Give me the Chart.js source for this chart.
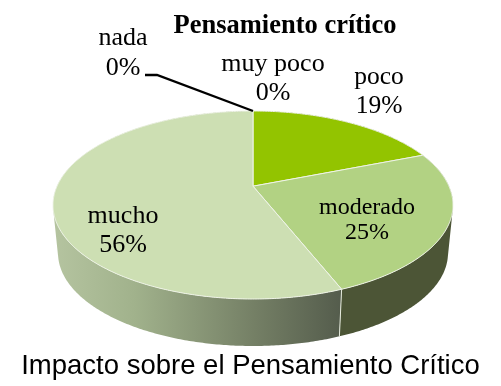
<!DOCTYPE html>
<html><head><meta charset="utf-8">
<style>html,body{margin:0;padding:0;background:#fff}#w{width:501px;height:386px;position:relative}</style>
<script src="https://cdn.jsdelivr.net/npm/chart.js@4"></script></head>
<body><div id="w"><canvas id="c" width="501" height="386"></canvas></div>
<script>
const categories = ["nada", "muy poco", "poco", "moderado", "mucho"];
const percentages = [0, 0, 19, 25, 56];
const sliceColors = ["#7f9f4f", "#a6c060", "#93c400", "#b2d283", "#cddfb3"];
const chartTitle = "Pensamiento crítico";
const caption = "Impacto sobre el Pensamiento Crítico";

// Label anchors (centre x, line 1 y, line 2 y, font size), in category order
const labelAnchors = [[123,38,68,26],[273,64,93,26],[379,77,106,25.5],[367,208,233,24],[123,216,245,26]];

// Projection of the pie's disc, tilted in perspective
const top3d = {cx:253, cy:205, rx:200, ry:94};
const base3d = {cx:253, cy:253, rx:195, ry:93};
const k = -0.2, kx = Math.sqrt(1 - k*k);
function disc(a){ // a = Chart.js arc angle
  const x = Math.cos(a), y = Math.sin(a), d = 1 + k*y;
  return [x*kx/d, (y+k)/d];
}
const onE = (e,u) => [e.cx + e.rx*u[0], e.cy + e.ry*u[1]];

function arcPts(e, a0, a1){
  const n = Math.max(1, Math.ceil((a1-a0)/0.01)), p = [];
  for(let i=0;i<=n;i++) p.push(onE(e, disc(a0+(a1-a0)*i/n)));
  return p;
}
function wallFill(ctx, idx){
  if(idx === 4){
    const g = ctx.createLinearGradient(53,0,342,0);
    g.addColorStop(0,"#b5c4a0"); g.addColorStop(0.28,"#a1b28c");
    g.addColorStop(0.7,"#747f65"); g.addColorStop(1,"#545c4c");
    return g;
  }
  return "#4c5536";
}
const pie3d = {
  id:"pie3d",
  afterLayout(chart){
    const t = chart.titleBlock;
    t.left = 69; t.right = 501; // title sits right of centre in the reference
  },
  beforeDatasetsDraw(chart){
    const ctx = chart.ctx, arcs = chart.getDatasetMeta(0).data;
    // side walls: one path of narrow quads, all wound the same way
    arcs.forEach((el,i)=>{
      if(el.endAngle - el.startAngle < 1e-6) return;
      const t = arcPts(top3d, el.startAngle, el.endAngle);
      const b = arcPts(base3d, el.startAngle, el.endAngle);
      ctx.beginPath();
      for(let j=0;j<t.length-1;j++){
        let q = [t[j],t[j+1],b[j+1],b[j]], area = 0;
        q.forEach((p,m)=>{ const n = q[(m+1)%4]; area += p[0]*n[1]-n[0]*p[1]; });
        if(area < 0) q = q.reverse();
        ctx.moveTo(q[0][0],q[0][1]);
        q.slice(1).forEach(p=>ctx.lineTo(p[0],p[1]));
        ctx.closePath();
      }
      ctx.fillStyle = wallFill(ctx,i);
      ctx.fill("nonzero");
    });
    // seam between the visible walls
    arcs.forEach(el=>{
      const u = disc(el.endAngle);
      if(u[1] > 0.6 && u[1] < 0.99 && u[0] > 0){
        const a = onE(top3d,u), b = onE(base3d,u);
        ctx.beginPath(); ctx.moveTo(a[0],a[1]); ctx.lineTo(b[0],b[1]);
        ctx.strokeStyle="#e6ebdd"; ctx.lineWidth=1; ctx.stroke();
      }
    });
    // top faces, meeting at the projected centre of the disc
    const apex = [top3d.cx, top3d.cy + top3d.ry*k];
    arcs.forEach(el=>{
      if(el.endAngle - el.startAngle < 1e-6) return;
      ctx.beginPath();
      ctx.moveTo(apex[0],apex[1]);
      arcPts(top3d, el.startAngle, el.endAngle).forEach(p=>ctx.lineTo(p[0],p[1]));
      ctx.closePath();
      ctx.fillStyle = el.options.backgroundColor;
      ctx.fill();
      ctx.strokeStyle="#eef3e6"; ctx.lineWidth=1; ctx.lineJoin="round"; ctx.stroke();
    });
    // leader line for the zero slice at the top
    const tip = onE(top3d, disc(arcs[0].startAngle));
    ctx.beginPath(); ctx.moveTo(145,75); ctx.lineTo(157,75); ctx.lineTo(tip[0],tip[1]);
    ctx.strokeStyle="#000"; ctx.lineWidth=2.4; ctx.lineJoin="miter"; ctx.stroke();
    // labels
    ctx.fillStyle="#000"; ctx.textAlign="center"; ctx.textBaseline="middle";
    categories.forEach((c,i)=>{
      const a = labelAnchors[i];
      ctx.font = a[3]+'px "Liberation Serif"';
      ctx.fillText(c, a[0], a[1]);
      ctx.fillText(percentages[i]+"%", a[0], a[2]);
    });
    return false; // faces are drawn above, in perspective
  }
};
new Chart(document.getElementById("c"),{
  type:"pie",
  data:{labels:categories, datasets:[{data:percentages, backgroundColor:sliceColors, borderWidth:0}]},
  options:{
    responsive:false, animation:false, rotation:0,
    layout:{padding:0},
    plugins:{
      legend:{display:false}, tooltip:{enabled:false},
      title:{display:true, text:chartTitle, color:"#000", font:{family:'"Liberation Serif"',size:26.5,weight:"bold"}, padding:{top:10,bottom:0}},
      subtitle:{display:true, position:"bottom", text:caption, color:"#000", font:{family:'"Liberation Sans"',size:27.5,weight:"normal"}, padding:{top:0,bottom:3}}
    }
  },
  plugins:[pie3d]
});
</script></body></html>
